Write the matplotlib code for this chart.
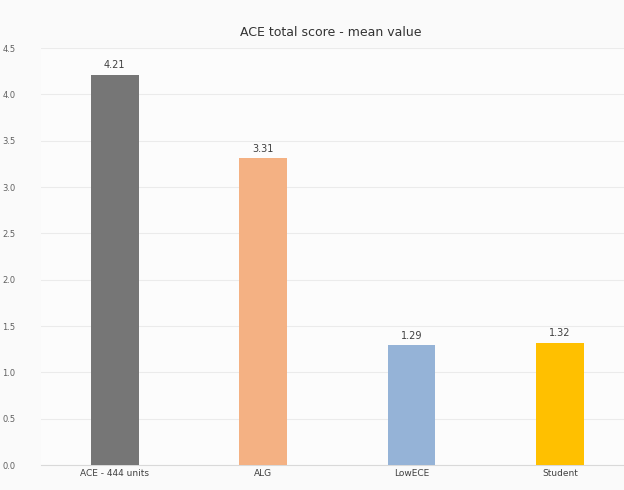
import matplotlib
matplotlib.use("Agg")
import matplotlib.pyplot as plt
import numpy as np

categories = ["ACE - 444 units", "ALG", "LowECE", "Student"]
values = [4.21, 3.31, 1.29, 1.32]
value_labels = ["4.21", "3.31", "1.29", "1.32"]
colors = ["#767676", "#F4B183", "#95B3D7", "#FFC000"]
yticks = [0, 0.5, 1, 1.5, 2, 2.5, 3, 3.5, 4, 4.5]

fig = plt.figure(figsize=(6.24, 4.9), dpi=100)
fig.patch.set_facecolor("#FAFAFA")
ax = fig.add_axes([0.065, 1 - 465 / 490, 0.935, (465 - 48) / 490])
ax.set_facecolor("#FCFCFC")
x = np.arange(len(categories))
bars = ax.bar(x, values, width=0.32, color=colors, zorder=3)
for xi, v, lab in zip(x, values, value_labels):
    ax.text(xi, v + 0.05, lab, ha="center", va="bottom", fontsize=7, color="#404040")
ax.set_xlim(-0.5, 3.43)
ax.set_ylim(0, 4.5)
ax.set_yticks(yticks)
ax.set_yticklabels([f"{t:.1f}" for t in yticks], fontsize=6, color="#606060")
ax.set_xticks(x)
ax.set_xticklabels(categories, fontsize=6.5, color="#404040")
ax.tick_params(axis="y", length=0, pad=18)
ax.tick_params(axis="x", length=0, pad=3)
ax.yaxis.grid(True, color="#EBEBEB", linewidth=0.8, zorder=0)
for s in ax.spines.values():
    s.set_visible(False)
ax.spines["bottom"].set_visible(True)
ax.spines["bottom"].set_color("#D9D9D9")
fig.text(0.53, 1 - 33 / 490, "ACE total score - mean value", ha="center", va="center", fontsize=9, color="#333333")
fig.savefig("out.png", dpi=100, facecolor=fig.get_facecolor())
